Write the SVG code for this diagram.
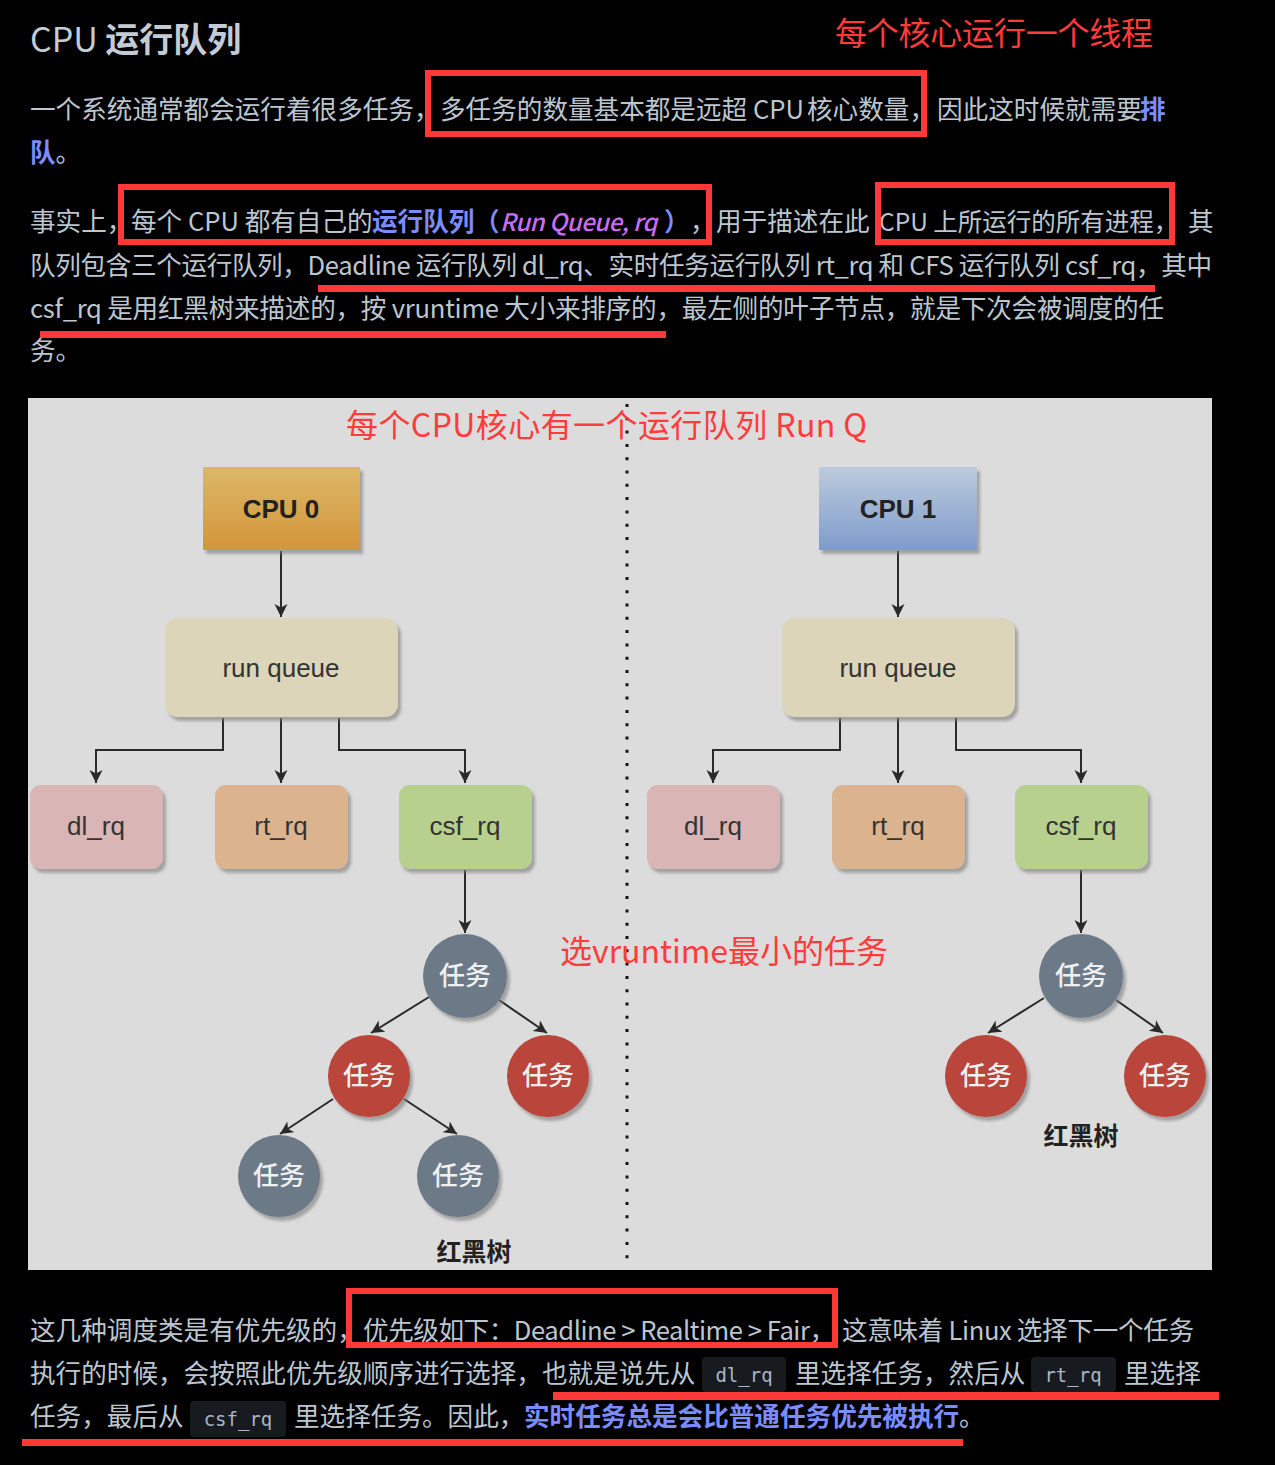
<svg xmlns="http://www.w3.org/2000/svg" width="1275" height="1465" viewBox="0 0 1275 1465">
<defs>
<style>
.body{font-family:"Noto Sans CJK SC","Noto Sans",sans-serif;font-size:25.6px;fill:#bcc6d1}
.title{font-family:"Noto Sans CJK SC","Noto Sans",sans-serif;font-size:34px;fill:#c3ccd6}
.hl{fill:#7b8cff;font-weight:bold}
.it{fill:#c96cf5;font-style:italic;font-weight:500}
.ann{font-family:"Noto Sans CJK SC","Noto Sans",sans-serif;font-size:32px;fill:#ff3b3b}
.code{font-family:"DejaVu Sans Mono","Liberation Mono",monospace;font-size:19px;fill:#a9b6c4;text-anchor:middle}
.codebg{fill:#171a1f}
.redbox{fill:none;stroke:#ff3838;stroke-width:6}
.redline{fill:#ff3838}
.lbl{font-family:"Liberation Sans",Arial,sans-serif;font-size:26px;fill:#333;text-anchor:middle}
.cpu{font-family:"Liberation Sans",Arial,sans-serif;font-size:26px;font-weight:bold;fill:#222;text-anchor:middle}
.task{font-family:"Noto Sans CJK SC","Noto Sans",sans-serif;font-size:26px;font-weight:500;fill:#f0f0f0;text-anchor:middle}
.rb{font-family:"Noto Sans CJK SC","Noto Sans",sans-serif;font-size:25px;font-weight:bold;fill:#222;text-anchor:middle}
.conn{fill:none;stroke:#2a2a2a;stroke-width:2}
.gray{fill:#6c7a88}
.red{fill:#b9443a}
</style>
<linearGradient id="gOr" x1="0" y1="0" x2="0" y2="1"><stop offset="0" stop-color="#dcb868"/><stop offset="1" stop-color="#d4953a"/></linearGradient>
<linearGradient id="gBl" x1="0" y1="0" x2="0" y2="1"><stop offset="0" stop-color="#bdcbdc"/><stop offset="1" stop-color="#7e9ccb"/></linearGradient>
<filter id="sh" x="-15%" y="-15%" width="140%" height="145%"><feDropShadow dx="3" dy="4" stdDeviation="1.5" flood-color="#7a7a7a" flood-opacity="0.6"/></filter>
<marker id="ah" markerUnits="userSpaceOnUse" markerWidth="14" markerHeight="14" refX="13" refY="6.5" orient="auto"><path d="M0,0 L13,6.5 L0,13 L3.5,6.5 Z" fill="#2a2a2a"/></marker>
</defs>
<rect width="1275" height="1465" fill="#000"/>

<!-- Header text -->
<text class="title" x="30" y="52">CPU <tspan font-weight="bold">运行队列</tspan></text>
<text class="ann" x="835" y="45" textLength="318">每个核心运行一个线程</text>

<!-- Paragraph 1 -->
<text class="body" y="119"><tspan x="30">一个系统通常都会运行着很多任务，</tspan><tspan x="440">多任务的数量基本都是远超</tspan><tspan x="753">CPU</tspan><tspan x="807">核心数量，</tspan><tspan x="937">因此这时候就需要</tspan><tspan x="1140" class="hl">排</tspan></text>
<text class="body" y="162"><tspan x="30" class="hl">队</tspan><tspan>。</tspan></text>

<!-- Paragraph 2 -->
<text class="body" y="231"><tspan x="30">事实上，</tspan><tspan x="131">每个 CPU 都有自己的</tspan><tspan x="372" class="hl">运行队列</tspan><tspan x="474" class="hl">（</tspan></text>
<text class="body it" x="500" y="231" style="font-size:24px;letter-spacing:-0.5px">Run Queue, rq</text>
<text class="body" y="231"><tspan x="664" class="hl">）</tspan><tspan x="690">，</tspan><tspan x="716">用于描述在此</tspan></text>
<text class="body" x="879" y="231" style="font-size:24.5px;letter-spacing:0px">CPU 上所运行的所有进程，</text>
<text class="body" x="1188" y="231">其</text>
<text class="body" x="30" y="275" textLength="1182" lengthAdjust="spacing">队列包含三个运行队列，Deadline 运行队列 dl_rq、实时任务运行队列 rt_rq 和 CFS 运行队列 csf_rq，其中</text>
<text class="body" x="30" y="318" textLength="1134" lengthAdjust="spacing">csf_rq 是用红黑树来描述的，按 vruntime 大小来排序的，最左侧的叶子节点，就是下次会被调度的任</text>
<text class="body" x="30" y="360">务。</text>

<!-- red highlights top -->
<rect class="redbox" x="428" y="73" width="496" height="61"/>
<rect class="redbox" x="121" y="187" width="588" height="55"/>
<rect class="redbox" x="878" y="185" width="294" height="57"/>
<rect class="redline" x="318" y="285" width="837" height="7"/>
<rect class="redline" x="40" y="331" width="626" height="7"/>

<!-- Diagram image -->
<rect x="28" y="398" width="1184" height="872" fill="#dcdcdc"/>

<g id="connectors">
<line class="conn" x1="281" y1="551" x2="281" y2="617" marker-end="url(#ah)"/>
<polyline class="conn" points="223,718 223,750 96,750 96,783" marker-end="url(#ah)"/>
<line class="conn" x1="281" y1="718" x2="281" y2="783" marker-end="url(#ah)"/>
<polyline class="conn" points="339,718 339,750 465,750 465,783" marker-end="url(#ah)"/>
<line class="conn" x1="465" y1="870" x2="465" y2="933" marker-end="url(#ah)"/>
<line class="conn" x1="429" y1="997" x2="371" y2="1033" marker-end="url(#ah)"/>
<line class="conn" x1="499" y1="1000" x2="547" y2="1033" marker-end="url(#ah)"/>
<line class="conn" x1="333" y1="1099" x2="280" y2="1134" marker-end="url(#ah)"/>
<line class="conn" x1="404" y1="1099" x2="457" y2="1134" marker-end="url(#ah)"/>

<line class="conn" x1="898" y1="551" x2="898" y2="617" marker-end="url(#ah)"/>
<polyline class="conn" points="840,718 840,750 713,750 713,783" marker-end="url(#ah)"/>
<line class="conn" x1="898" y1="718" x2="898" y2="783" marker-end="url(#ah)"/>
<polyline class="conn" points="956,718 956,750 1081,750 1081,783" marker-end="url(#ah)"/>
<line class="conn" x1="1081" y1="870" x2="1081" y2="933" marker-end="url(#ah)"/>
<line class="conn" x1="1044" y1="998" x2="988" y2="1033" marker-end="url(#ah)"/>
<line class="conn" x1="1116" y1="1000" x2="1163" y2="1033" marker-end="url(#ah)"/>
</g>

<!-- Left side nodes -->
<g id="cpu0"><rect x="203" y="467" width="157" height="83" fill="url(#gOr)" filter="url(#sh)"/><text class="cpu" x="281" y="518">CPU 0</text></g>
<g id="runqueue0"><rect x="165" y="618" width="233" height="99" rx="13" fill="#ddd5b9" filter="url(#sh)"/><text class="lbl" x="281" y="677">run queue</text></g>
<g id="dlrq0"><rect x="30" y="785" width="133" height="84" rx="11" fill="#dab5b5" filter="url(#sh)"/><text class="lbl" x="96" y="835">dl_rq</text></g>
<g id="rtrq0"><rect x="215" y="785" width="133" height="84" rx="11" fill="#dbb48f" filter="url(#sh)"/><text class="lbl" x="281" y="835">rt_rq</text></g>
<g id="csfrq0"><rect x="399" y="785" width="133" height="84" rx="11" fill="#b8d08d" filter="url(#sh)"/><text class="lbl" x="465" y="835">csf_rq</text></g>
<g id="task0root"><circle class="gray" cx="465" cy="976" r="42" filter="url(#sh)"/><text class="task" x="465" y="985">任务</text></g>
<g id="task0l"><circle class="red" cx="369" cy="1076" r="41" filter="url(#sh)"/><text class="task" x="369" y="1085">任务</text></g>
<g id="task0r"><circle class="red" cx="548" cy="1076" r="41" filter="url(#sh)"/><text class="task" x="548" y="1085">任务</text></g>
<g id="task0ll"><circle class="gray" cx="279" cy="1176" r="41" filter="url(#sh)"/><text class="task" x="279" y="1185">任务</text></g>
<g id="task0lr"><circle class="gray" cx="458" cy="1176" r="41" filter="url(#sh)"/><text class="task" x="458" y="1185">任务</text></g>
<g id="rbt0"><text class="rb" x="474" y="1261">红黑树</text></g>

<!-- Right side nodes -->
<g id="cpu1"><rect x="819" y="467" width="158" height="83" fill="url(#gBl)" filter="url(#sh)"/><text class="cpu" x="898" y="518">CPU 1</text></g>
<g id="runqueue1"><rect x="782" y="618" width="233" height="99" rx="13" fill="#ddd5b9" filter="url(#sh)"/><text class="lbl" x="898" y="677">run queue</text></g>
<g id="dlrq1"><rect x="647" y="785" width="133" height="84" rx="11" fill="#dab5b5" filter="url(#sh)"/><text class="lbl" x="713" y="835">dl_rq</text></g>
<g id="rtrq1"><rect x="832" y="785" width="133" height="84" rx="11" fill="#dbb48f" filter="url(#sh)"/><text class="lbl" x="898" y="835">rt_rq</text></g>
<g id="csfrq1"><rect x="1015" y="785" width="133" height="84" rx="11" fill="#b8d08d" filter="url(#sh)"/><text class="lbl" x="1081" y="835">csf_rq</text></g>
<g id="task1root"><circle class="gray" cx="1081" cy="976" r="42" filter="url(#sh)"/><text class="task" x="1081" y="985">任务</text></g>
<g id="task1l"><circle class="red" cx="986" cy="1076" r="41" filter="url(#sh)"/><text class="task" x="986" y="1085">任务</text></g>
<g id="task1r"><circle class="red" cx="1165" cy="1076" r="41" filter="url(#sh)"/><text class="task" x="1165" y="1085">任务</text></g>
<g id="rbt1"><text class="rb" x="1081" y="1145">红黑树</text></g>

<!-- divider -->
<line x1="627" y1="404" x2="627" y2="1268" stroke="#151515" stroke-width="3" stroke-dasharray="3 10.3"/>

<!-- red annotations in diagram -->
<text class="ann" x="346" y="437" textLength="521">每个CPU核心有一个运行队列 Run Q</text>
<text class="ann" x="560" y="963" textLength="328">选vruntime最小的任务</text>

<!-- Paragraph 3 -->
<text class="body" y="1340"><tspan x="30">这几种调度类是有优先级的，</tspan></text>
<text class="body" x="363" y="1340" textLength="472" lengthAdjust="spacing">优先级如下：Deadline &gt; Realtime &gt; Fair，</text>
<text class="body" x="842" y="1340" textLength="352" lengthAdjust="spacing">这意味着 Linux 选择下一个任务</text>

<rect class="codebg" x="702" y="1357" width="84" height="35" rx="4"/>
<rect class="codebg" x="1031" y="1357" width="85" height="35" rx="4"/>
<rect class="codebg" x="190" y="1401" width="96" height="36" rx="4"/>
<text class="body" y="1383"><tspan x="30">执行的时候，会按照此优先级顺序进行选择，也就是说先从</tspan><tspan x="795">里选择任务，然后从</tspan><tspan x="1124">里选择</tspan></text>
<text class="code" x="744" y="1382">dl_rq</text>
<text class="code" x="1073" y="1382">rt_rq</text>
<text class="body" y="1426"><tspan x="30">任务，最后从</tspan><tspan x="294">里选择任务。因此，</tspan><tspan x="524" class="hl">实时任务总是会比普通任务优先被执行</tspan><tspan>。</tspan></text>
<text class="code" x="238" y="1426">csf_rq</text>

<rect class="redbox" x="349" y="1291" width="486" height="54"/>
<rect class="redline" x="553" y="1392" width="666" height="8"/>
<rect class="redline" x="22" y="1439" width="941" height="7"/>
</svg>
